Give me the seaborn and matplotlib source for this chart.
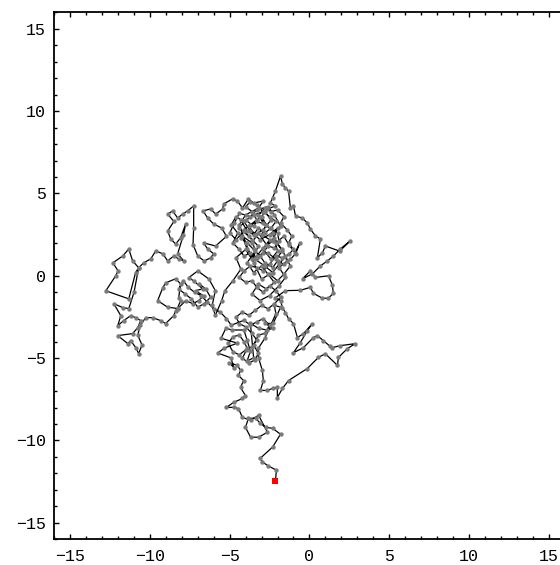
import numpy as np
import pandas as pd
import matplotlib
matplotlib.use("Agg")
import matplotlib.pyplot as plt
from matplotlib.ticker import MultipleLocator
import seaborn as sns

# ---- data: random-walk path (walk order) ----
seg_tail_x = [-2.13, -2.07, -2.57, -2.95, -3.07, -2.31, -1.81, -2.31, -2.75, -3.07, -3.38, -3.82, -4.01, -3.69, -3.19, -2.63, -3.19, -3.69, -4.2, -4.45, -4.76, -5.2, -4.76, -4.2, -4.01, -4.32, -4.13, -4.45, -4.32, -4.51]
seg_tail_y = [-12.48, -11.8, -11.55, -11.3, -11.07, -10.4, -9.62, -9.26, -9.2, -8.96, -8.65, -8.65, -9.2, -9.8, -9.8, -9.5, -8.47, -8.77, -8.6, -8.06, -7.99, -7.99, -7.69, -7.45, -7.27, -6.78, -6.36, -6.05, -5.75, -5.44]

seg_low_x = [-5.03, -4.73, -4.93, -5.75, -5.34, -4.52, -5.54, -5.24, -4.83, -4.11, -3.91, -3.7, -3.91, -3.5, -3.7, -3.19, -2.68, -2.27, -2.78, -2.27, -1.8, -2.2, -2.1, -2.8, -3.2, -3.19]
seg_low_y = [-5.28, -5.58, -4.98, -4.69, -4.39, -4.09, -3.79, -3.19, -3.29, -3.29, -3.89, -4.59, -5.18, -4.98, -2.89, -3.19, -3.29, -3.19, -2.89, -2.89, -1.9, -1.8, -2.3, -3.8, -4.4, -4.98]

seg_east_x = [-2.95, -2.89, -3.07, -2.63, -2.31, -2.01, -2.01, -1.69, -1.31, -0.13, 0.56, 1.0, 1.76, 1.82, 2.38, 2.88, 1.94, 1.44, 1.31, 0.88, 0.5, 0.25, -0.37, -1.0, -0.57, -0.13, 0.19, -0.37, -0.75, -1.0, -1.31, -1.5, -1.69, -1.81, -2.13]
seg_east_y = [-5.75, -6.36, -6.96, -6.96, -6.84, -6.78, -7.39, -6.84, -6.36, -5.63, -4.96, -4.73, -5.44, -4.96, -4.42, -4.12, -4.24, -4.36, -4.29, -3.94, -3.63, -3.75, -4.36, -4.67, -4.06, -3.33, -2.9, -3.51, -3.75, -2.9, -2.6, -2.24, -1.93, -1.51, -1.33]

seg_ne_x = [-1.5, -0.56, 0.06, 0.25, 0.81, 1.19, 1.5, 1.44, 1.2, 0.37, 0.06, -0.43, 0.19, 0.69, 1.12, 1.51, 1.94, 2.56, 1.9, 1.0, 0.82, 0.5, 0.69, 0.38, 0.06, -0.13, -0.44, -0.87, -1.0, -1.19]
seg_ne_y = [-0.9, -0.88, -0.7, -1.06, -1.36, -1.36, -1.06, -0.57, 0.0, -0.1, 0.3, -0.18, 0.12, 0.6, 0.9, 1.2, 1.63, 2.12, 1.5, 1.81, 1.4, 1.09, 2.24, 2.42, 2.84, 3.21, 3.51, 3.63, 4.24, 4.11]

seg_peak_x = [-1.31, -1.5, -1.69, -1.81, -2.13, -2.31, -2.45, -2.13, -2.63]
seg_peak_y = [5.15, 5.33, 5.57, 6.05, 5.15, 4.73, 4.42, 4.24, 4.06]

seg_core1_x = [-3.0, -2.7, -3.3, -3.8, -3.4, -2.9, -2.4, -2.8, -3.5, -4.1, -3.7, -3.1, -2.5, -2.0, -2.3, -2.9, -3.3, -2.6, -2.1, -1.7, -2.2, -2.7, -3.2, -3.6, -4.2, -3.9, -3.4, -2.8, -2.3, -1.9, -1.5, -1.2, -1.6, -2.0, -2.5, -3.0]
seg_core1_y = [3.6, 3.1, 3.3, 3.0, 2.5, 2.8, 3.4, 3.9, 3.7, 3.3, 2.7, 2.2, 2.5, 2.9, 2.1, 1.7, 1.2, 1.4, 1.0, 1.5, 2.3, 1.9, 2.6, 2.0, 2.4, 1.6, 1.0, 0.6, 0.2, 0.7, 1.2, 0.6, 0.1, -0.3, 0.1, -0.2]

seg_nw_x = [-3.5, -4.0, -4.4, -4.0, -3.19, -2.89, -3.5, -3.82, -4.2, -4.51, -4.82, -5.38, -5.44, -5.88, -6.2, -6.67, -6.38, -6.01, -5.5, -5.2, -5.88, -6.64, -6.38, -6.01, -6.2, -6.6, -7.0, -7.3, -7.26]
seg_nw_y = [0.8, 2.0, 3.1, 3.7, 4.12, 4.54, 4.42, 4.67, 4.12, 4.54, 4.67, 4.36, 4.06, 3.75, 4.06, 3.94, 3.51, 3.15, 2.9, 2.4, 1.81, 2.0, 1.63, 1.34, 1.09, 0.9, 1.2, 1.9, 2.9]

seg_west_x = [-7.26, -7.64, -7.95, -8.26, -8.58, -8.89, -8.5, -8.89, -8.7, -8.39, -8.08, -7.76, -7.9, -8.26, -7.89, -8.2, -8.51, -8.89, -9.2, -9.64, -9.95, -10.39, -10.71, -11.09, -11.33, -11.71, -12.33, -12.0, -12.15, -12.77, -11.33, -10.9, -10.71, -11.0, -11.33]
seg_west_y = [4.24, 3.94, 3.75, 3.51, 3.94, 3.75, 3.3, 2.72, 2.24, 1.93, 2.3, 3.15, 2.5, 1.34, 0.91, 1.03, 1.2, 0.91, 1.34, 1.51, 1.03, 0.79, 0.49, 0.91, 1.63, 1.2, 0.79, 0.3, 0.0, -0.91, -1.4, 0.2, 0.49, -1.0, -1.99]

seg_sw_x = [-11.71, -12.27, -11.83, -12.02, -11.65, -11.21, -10.89, -10.58, -10.77, -11.09, -12.02, -11.39, -11.21, -10.89, -10.71, -10.5, -10.77, -10.6, -10.27, -9.83, -9.33, -9.02, -8.51, -8.39, -8.26, -8.08]
seg_sw_y = [-1.93, -1.69, -2.42, -3.03, -2.72, -2.42, -2.54, -2.72, -3.15, -3.51, -3.63, -4.12, -3.94, -4.36, -4.72, -4.2, -3.6, -3.0, -2.54, -2.54, -2.72, -2.9, -2.42, -2.12, -1.93, -1.51]

seg_mid_x = [-8.2, -8.08, -8.39, -9.02, -9.2, -9.52, -8.9, -8.26, -7.76, -7.32, -6.95, -6.64, -7.14, -6.7, -7.26, -7.58, -7.0, -6.3, -5.9, -6.1, -5.9, -5.5, -5.3, -4.8]
seg_mid_y = [-1.34, -0.49, -0.18, -0.43, -0.73, -1.51, -1.9, -1.99, -1.51, -1.69, -1.51, -1.21, -0.91, -0.79, -0.3, -0.12, 0.3, -0.2, -0.9, -1.8, -2.4, -1.5, -0.9, -0.3]

seg_core2_x = [-4.3, -4.6, -4.0, -3.6, -3.2, -3.8, -4.4, -4.0, -3.5, -3.1, -2.7, -3.0, -2.5, -2.9, -2.4, -2.0, -2.3, -1.8, -2.2, -2.6, -3.3, -3.7, -4.4, -4.7, -5.0, -4.6, -4.1, -3.6, -3.4, -3.9, -3.5, -3.0, -2.6, -2.2, -2.7, -3.2, -3.6, -3.1, -2.5, -1.9, -1.5, -1.9, -1.4, -1.7, -2.1, -1.6, -1.3, -0.9, -0.6, -0.86]
seg_core2_y = [0.4, 1.1, 1.6, 1.0, 1.8, 2.4, 2.9, 3.4, 3.0, 3.6, 3.1, 2.5, 2.2, 1.6, 1.0, 1.5, 2.6, 3.0, 3.7, 4.2, 4.0, 3.6, 3.8, 3.2, 2.6, 2.2, 2.7, 2.2, 1.5, 0.8, 0.2, 0.6, 0.1, -0.4, -0.8, -0.5, -1.1, -1.5, -1.2, -0.6, -0.1, 0.5, 0.9, 1.6, 2.0, 2.4, 1.9, 1.4, 2.0, 1.34]

seg_core3_x = [-1.2, -1.6, -2.0, -2.3, -2.8, -3.1, -3.5, -3.9, -4.3, -4.1, -3.7, -3.3, -3.6, -4.0, -3.7, -3.3, -2.9, -2.5, -2.1, -2.4, -2.8, -3.2, -3.5, -3.9, -4.3, -4.6, -4.9, -4.5, -4.8, -4.4, -4.1, -3.7, -3.3, -2.9, -2.6, -2.2, -1.9, -2.0, -2.5, -2.9, -3.2, -2.8, -2.4, -2.0, -1.6, -1.8, -1.4, -1.1, -1.3, -1.0, -1.3, -1.7, -2.1, -2.5, -2.9, -3.3, -3.7, -4.1, -4.4, -4.0, -3.6, -3.3, -2.9, -2.5, -2.1, -1.8, -2.2, -2.6, -3.0, -3.4, -3.8, -4.2, -4.6, -4.4, -4.0, -3.6, -3.3, -3.6, -4.0, -4.4, -4.8, -5.1, -4.8, -4.4, -4.1, -3.9, -4.2, -3.8, -3.4, -3.2, -3.5, -3.2, -2.8, -2.5, -2.9, -3.3, -3.7, -4.1, -4.9, -5.2]
seg_core3_y = [1.0, 0.7, 0.9, 0.5, 0.8, 1.2, 1.6, 2.0, 2.3, 2.8, 3.1, 3.4, 3.9, 4.2, 4.5, 4.3, 3.9, 3.6, 3.3, 2.9, 2.6, 2.9, 2.5, 2.7, 3.4, 3.6, 3.1, 2.6, 2.0, 1.6, 1.2, 1.4, 1.1, 1.4, 1.8, 1.7, 2.1, 2.6, 2.9, 3.2, 3.7, 4.1, 3.9, 4.0, 3.6, 3.2, 2.8, 2.4, 2.0, 1.6, 1.3, 1.1, 1.2, 0.7, 0.3, 0.5, 0.6, 0.3, -0.1, -0.4, -0.3, -0.7, -1.0, -0.6, -0.9, -1.3, -1.7, -2.0, -1.8, -2.1, -2.4, -2.2, -2.5, -2.9, -3.1, -3.5, -3.9, -4.3, -4.5, -4.8, -4.6, -4.1, -3.7, -3.6, -4.0, -4.4, -5.0, -5.3, -5.1, -4.7, -4.2, -3.6, -3.5, -3.0, -2.6, -2.8, -3.0, -2.7, -3.0, -2.6]

seg_last_x = [-5.6, -6.0, -6.4, -6.8, -7.2, -7.6, -7.9, -8.2, -7.8, -7.4, -7.0, -6.6, -6.2, -6.5, -6.9]
seg_last_y = [-2.2, -2.0, -1.6, -1.2, -1.0, -0.7, -0.3, -0.8, -1.1, -1.4, -1.9, -1.7, -1.3, -0.8, -0.5]

xs = np.concatenate([seg_tail_x, seg_low_x, seg_east_x, seg_ne_x, seg_peak_x, seg_core1_x,
                     seg_nw_x, seg_west_x, seg_sw_x, seg_mid_x, seg_core2_x, seg_core3_x, seg_last_x])
ys = np.concatenate([seg_tail_y, seg_low_y, seg_east_y, seg_ne_y, seg_peak_y, seg_core1_y,
                     seg_nw_y, seg_west_y, seg_sw_y, seg_mid_y, seg_core2_y, seg_core3_y, seg_last_y])
df = pd.DataFrame({"step": np.arange(len(xs)), "x": xs, "y": ys})
start = df.iloc[[0]]

xticks = [-15, -10, -5, 0, 5, 10, 15]
yticks = [-15, -10, -5, 0, 5, 10, 15]

# ---- style ----
sns.set_style("ticks")
plt.rcParams["font.family"] = ["Liberation Mono", "DejaVu Sans Mono"]

fig = plt.figure(figsize=(5.6, 5.65), dpi=100)
ax = fig.add_axes([0.097, 0.0455, 0.903, 0.9327])

sns.lineplot(data=df, x="x", y="y", sort=False, estimator=None, color="black",
             linewidth=0.9, ax=ax, zorder=2)
sns.scatterplot(data=df, x="x", y="y", color="#7a7a7a", s=10, linewidth=0,
                ax=ax, zorder=3)
sns.scatterplot(data=start, x="x", y="y", color="#ff0000", marker="s", s=14,
                linewidth=0, ax=ax, zorder=4)

ax.set_xlim(-16, 15.72)
ax.set_ylim(-16, 16)
ax.set_xticks(xticks)
ax.set_yticks(yticks)
ax.set_xticklabels([f"{v}".replace("-", "\u2212") for v in xticks])
ax.set_yticklabels([f"{v}".replace("-", "\u2212") for v in yticks])
ax.xaxis.set_minor_locator(MultipleLocator(1))
ax.yaxis.set_minor_locator(MultipleLocator(1))
ax.set_xlabel("")
ax.set_ylabel("")

for side in ["left", "bottom", "top"]:
    ax.spines[side].set_visible(True)
    ax.spines[side].set_linewidth(1.3)
    ax.spines[side].set_color("black")
ax.spines["right"].set_visible(False)

ax.tick_params(which="both", direction="in", top=True, right=False, colors="black",
               width=1.0, labelsize=12, labelcolor="black")
ax.tick_params(which="major", length=3.5, pad=6)
ax.tick_params(which="minor", length=2)
ax.tick_params(axis="x", pad=7)
ax.set_facecolor("white")
fig.patch.set_facecolor("white")

fig.savefig("out.png", dpi=100)
